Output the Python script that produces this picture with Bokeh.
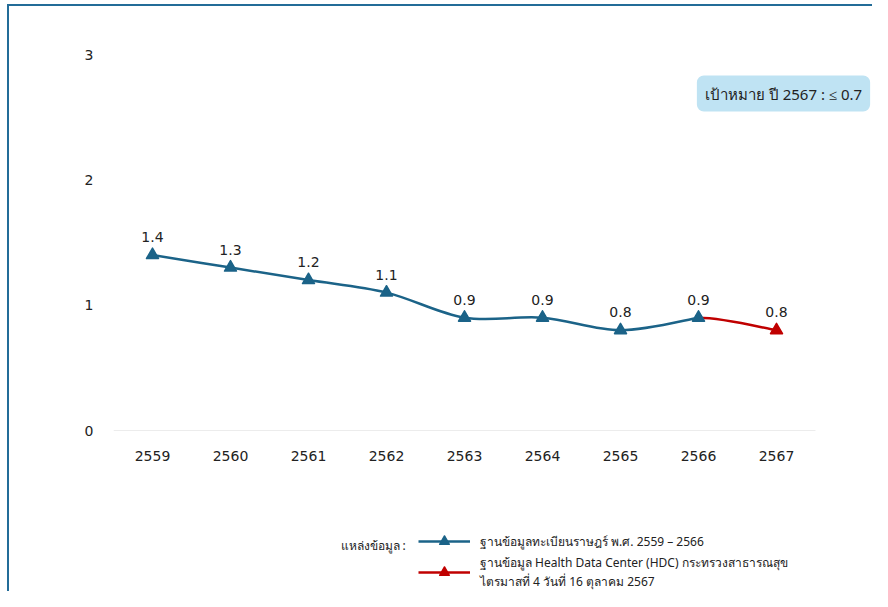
from bokeh.plotting import figure
from bokeh.layouts import column
from bokeh.models import (Range1d, FixedTicker, Label, Legend, LegendItem, ColumnDataSource)
from bokeh.core.properties import value
from bokeh.embed import file_html
from bokeh.resources import INLINE

years = ["2559", "2560", "2561", "2562", "2563", "2564", "2565", "2566", "2567"]
reg_years = ["2559", "2560", "2561", "2562", "2563", "2564", "2565", "2566"]
reg_values = [1.4, 1.3, 1.2, 1.1, 0.9, 0.9, 0.8, 0.9]
hdc_years = ["2566", "2567"]
hdc_values = [0.9, 0.8]
y_ticks = [0, 1, 2, 3]
target_text = "เป้าหมาย ปี 2567 : ≤ 0.7"
source_title = "แหล่งข้อมูล :"
reg_label = "ฐานข้อมูลทะเบียนราษฎร์ พ.ศ. 2559 – 2566"
hdc_label = "ฐานข้อมูล Health Data Center (HDC) กระทรวงสาธารณสุข\nไตรมาสที่ 4 วันที่ 16 ตุลาคม 2567"

BLUE = "#1b6388"
RED = "#c00000"
FRAME = "#236c98"
FONT = "DejaVu Sans"
THAI = "Noto Sans"

W, H = 872, 591
MAIN_H = 472
LEFT, TOP, BOTTOM_Y = 113, 54, 430
CAT_PX = 78.0


def pos(year):
    return years.index(year) + 0.5


x_end = (W - LEFT) / CAT_PX
p = figure(width=W, height=MAIN_H, x_range=Range1d(0, x_end), y_range=Range1d(0, 3),
           output_backend="svg", toolbar_location=None,
           min_border_left=LEFT, min_border_right=0, min_border_top=TOP,
           min_border_bottom=MAIN_H - BOTTOM_Y)
p.outline_line_color = None
p.border_fill_alpha = 0
p.background_fill_alpha = 0

# axes
p.yaxis.ticker = FixedTicker(ticks=y_ticks)
p.yaxis.axis_line_color = None
p.yaxis.major_tick_line_color = None
p.yaxis.minor_tick_line_color = None
p.yaxis.major_tick_out = 0
p.yaxis.minor_tick_out = 0
p.yaxis.major_label_standoff = 20
p.yaxis.major_label_text_font = FONT
p.yaxis.major_label_text_font_size = "14px"
p.yaxis.major_label_text_color = "#222222"

p.xaxis.ticker = FixedTicker(ticks=[pos(y) for y in years])
p.xaxis.major_label_overrides = {pos(y): y for y in years}
p.xaxis.axis_line_color = None
p.xaxis.major_tick_line_color = None
p.xaxis.minor_tick_line_color = None
p.xaxis.major_tick_out = 0
p.xaxis.minor_tick_out = 0
p.xaxis.major_label_standoff = 20
p.xaxis.major_label_text_font = FONT
p.xaxis.major_label_text_font_size = "14px"
p.xaxis.major_label_text_color = "#222222"

p.xgrid.grid_line_color = None
p.ygrid.grid_line_color = None

# baseline at zero spanning the categories
p.segment(x0=[0], y0=[y_ticks[0]], x1=[len(years)], y1=[y_ticks[0]],
          line_color="#d9d9d9", line_width=1)


def smooth_segments(xs, ys, prev=None):
    """Bezier control points (Catmull-Rom) through the given points."""
    pts = [(pos(x), y) for x, y in zip(xs, ys)]
    n = len(pts)
    before = (pos(prev[0]), prev[1]) if prev is not None else pts[0]
    seg = dict(x0=[], y0=[], x1=[], y1=[], cx0=[], cy0=[], cx1=[], cy1=[])
    for i in range(n - 1):
        p0 = pts[i - 1] if i > 0 else before
        p1 = pts[i]
        p2 = pts[i + 1]
        p3 = pts[i + 2] if i + 2 < n else pts[i + 1]
        seg["x0"].append(p1[0]); seg["y0"].append(p1[1])
        seg["x1"].append(p2[0]); seg["y1"].append(p2[1])
        seg["cx0"].append(p1[0] + (p2[0] - p0[0]) / 6)
        seg["cy0"].append(p1[1] + (p2[1] - p0[1]) / 6)
        seg["cx1"].append(p2[0] - (p3[0] - p1[0]) / 6)
        seg["cy1"].append(p2[1] - (p3[1] - p1[1]) / 6)
    return seg


reg_seg = smooth_segments(reg_years, reg_values)
hdc_seg = smooth_segments(hdc_years, hdc_values, prev=(reg_years[-2], reg_values[-2]))

p.bezier(source=ColumnDataSource(reg_seg), x0="x0", y0="y0", x1="x1", y1="y1",
         cx0="cx0", cy0="cy0", cx1="cx1", cy1="cy1", line_color=BLUE, line_width=2.5)
p.bezier(source=ColumnDataSource(hdc_seg), x0="x0", y0="y0", x1="x1", y1="y1",
         cx0="cx0", cy0="cy0", cx1="cx1", cy1="cy1", line_color=RED, line_width=2.5)

p.scatter(x=[pos(y) for y in hdc_years[1:]], y=hdc_values[1:], marker="triangle",
          size=12, fill_color=RED, line_color=RED, line_width=1.5, line_join="round")
p.scatter(x=[pos(y) for y in reg_years], y=reg_values, marker="triangle",
          size=12, fill_color=BLUE, line_color=BLUE, line_width=1.5, line_join="round")

# data labels
p.text(x=[pos(y) for y in reg_years], y=reg_values, text=[f"{v:.1f}" for v in reg_values],
       y_offset=-18, text_align="center", text_baseline="middle",
       text_font=value(FONT), text_font_size="14px", text_color="#222222")
p.text(x=[pos(y) for y in hdc_years[1:]], y=hdc_values[1:],
       text=[f"{v:.1f}" for v in hdc_values[1:]],
       y_offset=-18, text_align="center", text_baseline="middle",
       text_font=value(FONT), text_font_size="14px", text_color="#222222")

# target box
p.add_layout(Label(x=670, y=337, x_units="screen", y_units="screen", text=target_text,
                   text_align="center", text_baseline="middle",
                   text_font=THAI, text_font_size="15px", text_color="#222222",
                   background_fill_color="#bfe3f3", border_radius=7, padding=8))

# ---- source legend panel (frame aligned with the chart above) ----
LEG_H = H - MAIN_H
q = figure(width=W, height=LEG_H, x_range=Range1d(0, 1), y_range=Range1d(0, 1),
           output_backend="svg", toolbar_location=None,
           min_border=0, min_border_left=0, min_border_right=0,
           min_border_top=0, min_border_bottom=0)
q.axis.visible = False
q.grid.visible = False
q.outline_line_color = None
q.border_fill_alpha = 0
q.background_fill_alpha = 0

NA = [float("nan")]
k_reg_line = q.line(x=NA, y=NA, line_color=BLUE, line_width=2.5)
k_reg_mark = q.scatter(x=NA, y=NA, marker="triangle", fill_color=BLUE, line_color=BLUE,
                       line_width=1.5, line_join="round")
k_hdc_line = q.line(x=NA, y=NA, line_color=RED, line_width=2.5)
k_hdc_mark = q.scatter(x=NA, y=NA, marker="triangle", fill_color=RED, line_color=RED,
                       line_width=1.5, line_join="round")

q.add_layout(Label(x=227, y=LEG_H - 73, x_units="screen", y_units="screen", text=source_title,
                   text_align="left", text_baseline="middle",
                   text_font=THAI, text_font_size="12px", text_color="#222222"))

legend = Legend(items=[LegendItem(label=reg_label, renderers=[k_reg_line, k_reg_mark]),
                       LegendItem(label=hdc_label, renderers=[k_hdc_line, k_hdc_mark])],
                location=(305, 0), orientation="vertical",
                border_line_color=None, background_fill_alpha=0,
                padding=0, margin=0, spacing=0,
                glyph_width=52, glyph_height=24, label_standoff=10,
                label_text_font=THAI, label_text_font_size="12px",
                label_text_line_height=1.55,
                label_text_color="#222222")
q.add_layout(legend)

layout = column(p, q, spacing=0,
                styles={"background-image": f"linear-gradient({FRAME},{FRAME}), linear-gradient({FRAME},{FRAME})",
                        "background-size": "2px 100%, 100% 2px",
                        "background-position": "7px 4px, 7px 4px",
                        "background-repeat": "no-repeat",
                        "background-color": "white"})

open("out.html", "w").write(file_html(layout, INLINE))
